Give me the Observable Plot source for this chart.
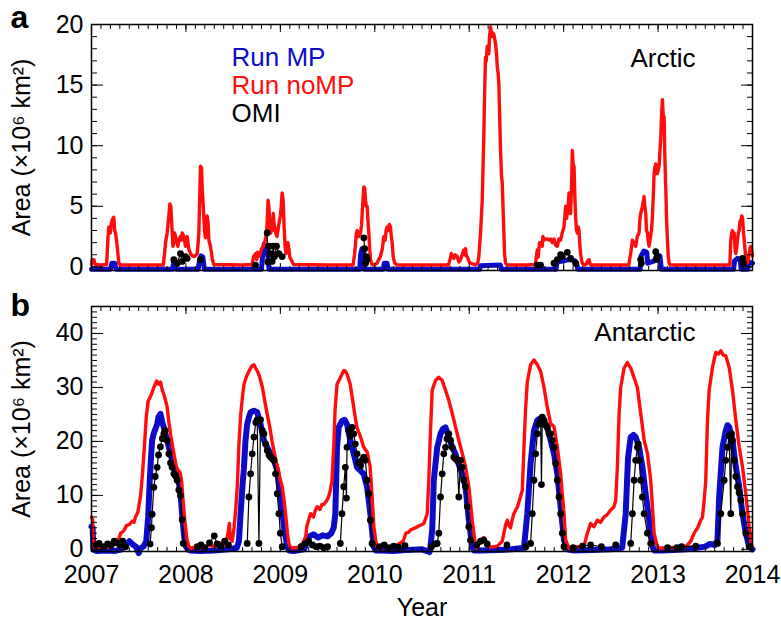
<!DOCTYPE html>
<html><head><meta charset="utf-8">
<script src="https://cdn.jsdelivr.net/npm/d3@7"></script>
<script src="https://cdn.jsdelivr.net/npm/@observablehq/plot@0.6"></script>
<style>
body{margin:0;background:#fff;font-family:"Liberation Sans",Arial,Helvetica,sans-serif;}
#wrap{position:relative;width:781px;height:619px;overflow:hidden;background:#fff;}
#pa{position:absolute;left:0;top:0;}
#pb{position:absolute;left:0;top:280px;}
</style></head><body><div id="wrap"><div id="pa"></div><div id="pb"></div></div>
<script>
// ---------- tick labels / categories ----------
const years = [2007, 2008, 2009, 2010, 2011, 2012, 2013, 2014];
const arcTicks = [0, 5, 10, 15, 20];
const antTicks = [0, 10, 20, 30, 40];
const seriesNames = ["Run MP", "Run noMP", "OMI"];
const seriesColors = ["#0c0cc8", "#ff0d0d", "#000000"];
const regionNames = ["Arctic", "Antarctic"];
const panelLetters = ["a", "b"];
const yTitle = "Area (×10⁶ km²)";
const xTitle = "Year";

// ---------- Arctic (panel a) ----------
const arcMP = [[2007.0,-0.2],[2007.20,-0.2],[2007.215,0.3],[2007.245,0.3],[2007.26,-0.2],[2007.86,-0.2],[2007.87,0.4],[2007.89,0.3],[2007.90,-0.2],[2008.13,-0.2],[2008.145,0.6],[2008.16,0.9],[2008.18,0.8],[2008.195,-0.2],[2008.80,-0.2],[2008.815,1.2],[2008.83,1.9],[2008.85,1.6],[2008.87,0.8],[2008.88,-0.2],[2009.84,-0.2],[2009.85,1.0],[2009.865,1.5],[2009.88,1.2],[2009.89,-0.2],[2010.09,-0.2],[2010.10,0.3],[2010.13,0.3],[2010.14,-0.2],[2011.11,-0.2],[2011.12,0.1],[2011.33,0.15],[2011.34,-0.2],[2011.92,-0.2],[2011.93,0.4],[2012.0,0.5],[2012.06,0.6],[2012.12,0.5],[2012.14,0.2],[2012.15,-0.2],[2012.81,-0.2],[2012.82,0.9],[2012.85,1.3],[2012.88,1.2],[2012.89,0.3],[2012.96,0.5],[2012.99,1.0],[2013.02,0.9],[2013.035,-0.2],[2013.80,-0.2],[2013.81,0.5],[2013.84,0.7],[2013.87,0.6],[2013.88,-0.2],[2013.95,-0.2],[2013.96,0.4],[2014.0,0.3]];

const arcNoMP = [[2007.0,0.2],[2007.008,0.6],[2007.025,0.6],[2007.04,0.2],[2007.10,0.15],[2007.16,0.2],[2007.175,2.5],[2007.184,3.3],[2007.20,2.8],[2007.21,3.6],[2007.22,3.9],[2007.236,4.1],[2007.245,3.0],[2007.254,2.8],[2007.265,2.2],[2007.272,1.7],[2007.289,0.3],[2007.307,0.15],
[2007.50,0.15],[2007.76,0.15],[2007.775,1.2],[2007.784,2.0],[2007.801,2.8],[2007.81,3.5],[2007.819,4.2],[2007.83,5.2],[2007.84,5.0],[2007.854,3.0],[2007.862,1.7],[2007.872,2.0],[2007.88,2.8],[2007.89,2.5],[2007.90,2.2],[2007.915,1.7],[2007.925,2.2],[2007.942,2.5],[2007.95,2.2],[2007.96,2.8],[2007.978,2.5],[2007.995,1.7],[2008.005,2.2],[2008.013,2.5],[2008.03,1.5],[2008.048,1.1],[2008.07,0.9],[2008.084,0.85],[2008.10,0.9],[2008.119,1.1],[2008.13,2.0],[2008.137,2.8],[2008.145,5.5],[2008.154,8.3],[2008.165,8.2],[2008.172,6.5],[2008.18,5.5],[2008.19,4.0],[2008.2,2.8],[2008.207,2.4],[2008.215,4.0],[2008.225,4.2],[2008.235,3.6],[2008.243,2.2],[2008.26,1.7],[2008.28,0.6],[2008.295,0.2],
[2008.60,0.15],[2008.70,0.2],[2008.719,0.9],[2008.74,1.1],[2008.75,0.6],[2008.76,1.2],[2008.78,0.9],[2008.80,1.5],[2008.82,1.7],[2008.84,2.2],[2008.855,2.8],[2008.862,4.0],[2008.87,5.5],[2008.878,5.0],[2008.89,3.5],[2008.898,2.8],[2008.91,3.3],[2008.915,3.0],[2008.925,4.4],[2008.935,3.5],[2008.95,2.8],[2008.965,2.5],[2008.98,3.3],[2008.99,3.8],[2009.0,4.2],[2009.01,5.0],[2009.019,6.1],[2009.03,5.5],[2009.04,3.3],[2009.05,1.7],[2009.06,1.1],[2009.08,2.0],[2009.09,1.5],[2009.10,0.8],[2009.12,0.5],[2009.14,0.2],
[2009.50,0.15],[2009.77,0.15],[2009.785,1.0],[2009.796,1.9],[2009.805,2.8],[2009.813,3.0],[2009.83,2.5],[2009.849,2.8],[2009.86,3.5],[2009.875,5.5],[2009.884,6.6],[2009.893,6.5],[2009.902,5.5],[2009.91,5.0],[2009.919,5.0],[2009.93,3.5],[2009.937,2.8],[2009.946,1.5],[2009.954,0.6],[2009.97,0.2],[2009.99,0.15],[2010.025,0.3],[2010.04,0.6],[2010.06,0.85],[2010.08,1.5],[2010.096,2.5],[2010.11,2.2],[2010.12,3.0],[2010.131,3.3],[2010.145,3.0],[2010.155,3.5],[2010.166,3.3],[2010.175,2.5],[2010.184,2.0],[2010.195,0.85],[2010.21,0.3],[2010.237,0.15],
[2010.50,0.15],[2010.78,0.15],[2010.80,0.7],[2010.81,1.1],[2010.82,0.8],[2010.837,0.7],[2010.85,1.0],[2010.873,0.85],[2010.89,0.4],[2010.908,0.6],[2010.925,1.0],[2010.943,1.4],[2010.952,1.0],[2010.961,1.5],[2010.97,0.9],[2010.979,0.85],[2011.0,0.4],[2011.014,0.3],[2011.067,0.16],[2011.09,0.3],[2011.102,0.85],[2011.12,2.8],[2011.138,5.5],[2011.155,11.0],[2011.165,15.0],[2011.173,17.3],[2011.18,17.0],[2011.191,18.2],[2011.20,17.6],[2011.208,17.6],[2011.215,19.0],[2011.226,19.8],[2011.235,19.3],[2011.244,19.0],[2011.252,19.3],[2011.261,19.2],[2011.27,18.8],[2011.279,18.4],[2011.29,17.5],[2011.297,16.5],[2011.306,16.0],[2011.314,15.1],[2011.322,12.5],[2011.332,9.6],[2011.342,7.5],[2011.35,6.9],[2011.36,4.5],[2011.367,2.8],[2011.375,1.0],[2011.385,0.3],[2011.40,0.15],
[2011.60,0.15],[2011.70,0.2],[2011.721,1.4],[2011.73,0.8],[2011.745,2.0],[2011.756,2.0],[2011.774,1.7],[2011.78,2.5],[2011.792,2.2],[2011.81,2.3],[2011.827,2.3],[2011.845,2.2],[2011.862,2.3],[2011.88,2.0],[2011.898,2.3],[2011.915,1.8],[2011.933,1.7],[2011.95,2.3],[2011.968,2.2],[2011.985,2.8],[2012.004,3.3],[2012.021,5.0],[2012.03,4.0],[2012.039,4.4],[2012.048,5.0],[2012.057,6.1],[2012.065,5.0],[2012.074,4.4],[2012.083,6.5],[2012.092,9.6],[2012.10,8.5],[2012.11,8.3],[2012.118,6.0],[2012.127,4.1],[2012.136,3.0],[2012.145,2.8],[2012.154,3.3],[2012.163,3.0],[2012.172,1.7],[2012.18,1.1],[2012.19,0.5],[2012.198,0.3],[2012.216,0.15],[2012.24,0.2],[2012.255,0.5],[2012.269,0.6],[2012.278,0.3],[2012.286,0.15],
[2012.50,0.15],[2012.69,0.15],[2012.70,0.7],[2012.71,1.1],[2012.728,2.2],[2012.745,2.0],[2012.763,1.7],[2012.78,2.5],[2012.799,2.8],[2012.808,4.0],[2012.816,4.4],[2012.834,5.0],[2012.852,5.8],[2012.86,5.0],[2012.869,4.4],[2012.878,3.0],[2012.887,2.8],[2012.895,2.2],[2012.905,1.7],[2012.92,2.5],[2012.93,3.0],[2012.94,4.1],[2012.95,6.0],[2012.958,7.7],[2012.966,8.2],[2012.975,8.5],[2012.984,7.7],[2012.993,7.7],[2013.002,8.0],[2013.011,8.3],[2013.02,9.6],[2013.028,10.5],[2013.037,12.5],[2013.046,13.8],[2013.055,12.5],[2013.064,12.4],[2013.072,9.0],[2013.081,6.6],[2013.09,4.0],[2013.099,2.2],[2013.108,0.9],[2013.117,0.3],[2013.13,0.15],
[2013.50,0.15],[2013.76,0.15],[2013.77,2.2],[2013.78,2.8],[2013.788,3.0],[2013.797,2.8],[2013.806,2.8],[2013.815,1.5],[2013.823,1.1],[2013.832,1.5],[2013.841,2.2],[2013.85,2.8],[2013.859,3.0],[2013.868,3.8],[2013.876,3.6],[2013.885,4.2],[2013.894,4.1],[2013.903,3.0],[2013.912,2.2],[2013.92,1.5],[2013.929,0.6],[2013.94,0.3],[2013.955,0.5],[2013.965,1.1],[2013.973,1.5],[2013.982,1.7],[2013.99,1.5],[2014.0,0.9]];

const arcOMI = [
 [[2007.872,0.6],[2007.907,0.3],[2007.942,1.1],[2007.96,0.45],[2007.995,0.85],[2008.013,0.7]],
 [[2008.154,0.6]],
 [[2008.737,0.15]],
 [[2008.86,2.8],[2008.868,0.4],[2008.878,1.7],[2008.896,1.1],[2008.913,0.45],[2008.924,1.7],[2008.938,0.85],[2008.959,1.7],[2008.984,1.1],[2009.019,0.85]],
 [[2009.884,2.4],[2009.893,1.5],[2009.902,0.3],[2009.91,0.85],[2009.919,0.6]],
 [[2011.721,0.15],[2011.756,0.15]],
 [[2011.898,0.3],[2011.933,0.6],[2011.968,1.0],[2011.986,0.85],[2012.039,1.2],[2012.074,0.7],[2012.127,0.3]],
 [[2012.816,0.6],[2012.823,0.3]],
 [[2012.975,1.25],[2012.984,0.6],[2012.993,0.85]],
 [[2013.894,0.7],[2013.905,0.3]]
];

// ---------- Antarctic (panel b) ----------
const antMP = [[2007.0,4.2],[2007.012,4.0],[2007.02,0.0],[2007.05,-0.3],[2007.15,-0.2],[2007.25,-0.3],[2007.32,0.0],[2007.36,0.8],[2007.40,1.5],[2007.43,1.0],[2007.47,0.5],[2007.50,-0.7],[2007.52,0.2],[2007.55,0.5],[2007.58,1.5],[2007.60,6],[2007.615,12],[2007.63,17],[2007.642,20.2],[2007.66,21.5],[2007.695,23.2],[2007.71,24.5],[2007.73,25.1],[2007.75,23.5],[2007.766,22.6],[2007.80,20.2],[2007.837,17.7],[2007.87,15.5],[2007.907,14.0],[2007.925,12.5],[2007.942,10.3],[2007.96,6.5],[2007.98,2.5],[2008.0,0.5],[2008.02,0.0],
[2008.05,-0.2],[2008.15,-0.3],[2008.30,-0.2],[2008.45,0.0],[2008.54,0.3],[2008.561,1.5],[2008.579,6.6],[2008.60,12],[2008.614,15.0],[2008.63,20],[2008.649,23.2],[2008.667,24.5],[2008.685,25.4],[2008.72,25.7],[2008.755,25.4],[2008.79,23.2],[2008.826,20.2],[2008.861,18.9],[2008.896,17.7],[2008.932,16.5],[2008.967,14.6],[2009.0,10.3],[2009.038,4.2],[2009.073,0.5],[2009.09,-0.2],
[2009.14,-0.3],[2009.25,0.0],[2009.28,1.2],[2009.30,2.3],[2009.35,2.8],[2009.40,2.2],[2009.45,2.6],[2009.50,2.4],[2009.54,3.0],[2009.565,4],[2009.582,6.6],[2009.60,18.9],[2009.618,22.6],[2009.653,23.8],[2009.68,24.0],[2009.706,23.2],[2009.741,20.2],[2009.777,17.7],[2009.812,15.2],[2009.847,14.6],[2009.882,14.0],[2009.918,11.6],[2009.953,6.6],[2009.988,0.5],[2010.01,-0.2],
[2010.05,-0.2],[2010.20,-0.3],[2010.35,-0.1],[2010.50,0.0],[2010.58,-0.5],[2010.59,0.5],[2010.608,3.6],[2010.625,12.8],[2010.661,18.9],[2010.696,21.4],[2010.72,22.3],[2010.749,22.6],[2010.784,20.8],[2010.82,18.9],[2010.855,17.7],[2010.873,16.5],[2010.926,14.0],[2010.961,11.6],[2010.996,5.4],[2011.032,0.5],[2011.05,-0.2],
[2011.10,-0.2],[2011.30,-0.1],[2011.45,0.0],[2011.58,0.3],[2011.615,6.6],[2011.65,15.9],[2011.686,22.0],[2011.721,23.9],[2011.774,24.5],[2011.80,23.5],[2011.827,22.6],[2011.862,20.2],[2011.898,17.7],[2011.933,14.0],[2011.968,7.9],[2012.004,1.7],[2012.039,0.0],
[2012.10,-0.2],[2012.30,-0.1],[2012.50,0.0],[2012.62,0.3],[2012.657,6.6],[2012.682,17.0],[2012.71,20.8],[2012.74,21.2],[2012.763,20.8],[2012.799,18.9],[2012.834,15.3],[2012.869,10.3],[2012.905,5.4],[2012.94,0.5],[2012.96,-0.2],
[2013.05,-0.2],[2013.30,0.0],[2013.50,0.5],[2013.55,1.0],[2013.60,0.8],[2013.629,1.7],[2013.647,9.7],[2013.682,18.9],[2013.717,22.0],[2013.735,23.0],[2013.753,22.7],[2013.788,20.2],[2013.823,15.3],[2013.859,11.6],[2013.894,6.6],[2013.929,3.0],[2013.965,0.5],[2014.0,0.0]];

const antNoMP = [[2007.000,6.0],[2007.012,5.5],[2007.020,1.0],[2007.035,0.3],[2007.10,0.3],[2007.16,0.4],[2007.22,0.6],[2007.25,1.2],[2007.29,2.0],[2007.31,3.0],[2007.34,3.4],[2007.37,4.4],[2007.40,4.6],[2007.43,5.2],[2007.45,5.0],[2007.47,6.2],[2007.49,6.8],[2007.50,7.8],[2007.52,10.0],[2007.54,14],[2007.56,19],[2007.58,24.5],[2007.60,27.5],[2007.63,28.5],[2007.66,30.0],[2007.69,31.2],[2007.71,30.6],[2007.73,31.0],[2007.75,29.5],[2007.77,28.5],[2007.80,26.5],[2007.82,23.5],[2007.84,21],[2007.86,19],[2007.88,17],[2007.90,15.2],[2007.92,14.6],[2007.94,14.2],[2007.955,12.5],[2007.97,9],[2007.99,5],[2008.01,2],[2008.03,0.6],[2008.05,0.2],
[2008.07,0.3],[2008.12,0.5],[2008.18,0.3],[2008.25,0.8],[2008.30,0.5],[2008.36,1.2],[2008.40,0.8],[2008.43,1.5],[2008.45,3.5],[2008.46,4.8],[2008.47,2.0],[2008.49,1.5],[2008.51,4],[2008.53,8],[2008.545,12],[2008.56,19],[2008.58,25],[2008.60,28.5],[2008.615,30.6],[2008.64,32],[2008.67,33.1],[2008.70,34.0],[2008.72,34.2],[2008.74,33.5],[2008.755,33.1],[2008.78,32.0],[2008.81,30.0],[2008.84,27],[2008.86,25.1],[2008.89,22.5],[2008.91,20.2],[2008.94,17.5],[2008.97,15.2],[2008.99,13.5],[2009.02,11.6],[2009.04,9],[2009.055,6.6],[2009.075,3],[2009.09,1.1],[2009.11,0.2],
[2009.14,0.3],[2009.20,0.4],[2009.24,1.2],[2009.27,2.5],[2009.28,4.2],[2009.30,5.5],[2009.32,6.6],[2009.35,6.0],[2009.37,7.2],[2009.39,7.9],[2009.42,7.4],[2009.44,8.3],[2009.46,8.3],[2009.49,9.0],[2009.51,9.7],[2009.53,11],[2009.547,12.8],[2009.565,18.9],[2009.58,26],[2009.60,30.6],[2009.635,31.8],[2009.67,33.1],[2009.69,33.0],[2009.706,32.5],[2009.74,30.6],[2009.777,26.3],[2009.81,22.6],[2009.85,20.8],[2009.88,19.0],[2009.92,18.0],[2009.95,15.4],[2009.97,10.3],[2009.99,4.2],[2010.02,0.5],[2010.04,0.3],
[2010.07,0.3],[2010.17,0.5],[2010.24,0.8],[2010.30,1.5],[2010.33,3.0],[2010.36,3.2],[2010.38,3.6],[2010.42,3.9],[2010.45,4.2],[2010.49,4.5],[2010.52,4.8],[2010.555,6.6],[2010.572,12.8],[2010.59,22],[2010.608,29.5],[2010.643,31.3],[2010.678,31.9],[2010.714,31.3],[2010.749,29.5],[2010.784,27.6],[2010.82,25.2],[2010.855,22.7],[2010.89,20.2],[2010.926,17.8],[2010.961,15.3],[2010.996,11.6],[2011.032,5.4],[2011.067,0.5],[2011.08,0.2],
[2011.085,0.5],[2011.12,1.5],[2011.155,2.2],[2011.19,0.8],[2011.23,0.4],[2011.30,0.6],[2011.35,1.5],[2011.367,3.0],[2011.385,4.5],[2011.403,5.4],[2011.42,4.5],[2011.438,4.0],[2011.455,5.5],[2011.473,6.6],[2011.49,7.2],[2011.509,7.8],[2011.53,9],[2011.562,10.9],[2011.58,19],[2011.597,26],[2011.615,31],[2011.65,34.2],[2011.686,35.1],[2011.721,34.2],[2011.756,33],[2011.792,30],[2011.827,26.3],[2011.862,23.3],[2011.898,22.7],[2011.933,19],[2011.968,14],[2012.004,6.6],[2012.021,1.7],[2012.057,0.2],
[2012.074,0.3],[2012.15,0.5],[2012.216,0.6],[2012.251,3.0],[2012.286,4.8],[2012.32,4.2],[2012.357,5.4],[2012.39,5.0],[2012.428,6.0],[2012.46,6.4],[2012.498,7.3],[2012.53,7.8],[2012.551,9.0],[2012.569,15.3],[2012.587,25],[2012.604,30],[2012.64,33.6],[2012.675,34.6],[2012.71,33.6],[2012.746,31.8],[2012.781,30],[2012.816,25.2],[2012.852,20.3],[2012.887,17.8],[2012.922,12.8],[2012.958,3.0],[2012.993,0.4],
[2013.03,0.2],[2013.10,0.4],[2013.20,0.3],[2013.30,0.6],[2013.346,1.5],[2013.382,3.0],[2013.42,4.0],[2013.452,5.4],[2013.47,6.0],[2013.488,9.0],[2013.505,12.8],[2013.523,23.9],[2013.541,29.5],[2013.576,33.7],[2013.611,36.5],[2013.64,36.2],[2013.664,36.8],[2013.69,36.0],[2013.717,35.9],[2013.753,33.7],[2013.788,29.5],[2013.823,24],[2013.859,19],[2013.894,15.3],[2013.929,10.3],[2013.965,4.2],[2013.995,0.3]];

const antOMI = [
 [[2007.05,0.8],[2007.08,1.1],[2007.13,0.5],[2007.17,1.0],[2007.21,0.8],[2007.24,1.5],[2007.27,1.2],[2007.30,0.8],[2007.33,1.5],[2007.36,0.5]],
 [[2007.62,1.0],[2007.635,4],[2007.642,6.5],[2007.66,11.5],[2007.675,13.5],[2007.695,15.2],[2007.71,17.5],[2007.73,19.0],[2007.75,20.5],[2007.766,21.4],[2007.78,22.0],[2007.801,20.2],[2007.819,17.7],[2007.837,16.0],[2007.854,15.2],[2007.872,14.0],[2007.89,13.6],[2007.907,12.8],[2007.925,11.0],[2007.942,10.0],[2007.96,5.5],[2007.971,1.1]],
 [[2008.12,0.5],[2008.16,0.8],[2008.20,0.3],[2008.25,1.2],[2008.30,2.5],[2008.33,1.0],[2008.37,0.6],[2008.41,1.5],[2008.45,0.8]],
 [[2008.649,1.1],[2008.667,9.7],[2008.685,14.0],[2008.702,17.7],[2008.72,20.8],[2008.74,23.5],[2008.755,24.0],[2008.773,1.1],[2008.79,24.0],[2008.81,22.0],[2008.826,21.4],[2008.845,19.5],[2008.861,18.3],[2008.88,17.5],[2008.896,17.1],[2008.915,16.8],[2008.932,16.5],[2008.949,14.0],[2008.967,10.3],[2008.985,6.6],[2009.0,3.0],[2009.02,0.5]],
 [[2009.22,0.5],[2009.26,1.0],[2009.30,1.5],[2009.34,0.8],[2009.38,0.5],[2009.42,0.6],[2009.46,0.3],[2009.50,0.5]],
 [[2009.635,1.1],[2009.653,6.6],[2009.671,11.6],[2009.688,15.2],[2009.70,9.5],[2009.706,18.9],[2009.724,22.0],[2009.74,21.0],[2009.759,22.6],[2009.777,21.4],[2009.794,19.5],[2009.812,17.7],[2009.83,16.0],[2009.85,15.5],[2009.865,16.5],[2009.882,17.1],[2009.90,16.5],[2009.918,12.8],[2009.935,10.3],[2009.953,5.4],[2009.971,1.1]],
 [[2010.05,0.5],[2010.10,0.8],[2010.15,0.3],[2010.20,0.6],[2010.25,0.4],[2010.32,0.7]],
 [[2010.60,0.5],[2010.64,1.0],[2010.661,1.1],[2010.678,3.0],[2010.696,9.7],[2010.714,14.0],[2010.731,17.7],[2010.749,18.9],[2010.765,20.5],[2010.784,21.4],[2010.802,20.2],[2010.82,18.9],[2010.837,17.1],[2010.855,16.8],[2010.873,16.5],[2010.89,9.7],[2010.908,16.5],[2010.926,15.2],[2010.943,12.8],[2010.961,11.6],[2010.979,7.9],[2010.996,4.2],[2011.014,1.7]],
 [[2011.08,0.8],[2011.12,1.5],[2011.155,1.7],[2011.19,1.0]],
 [[2011.40,0.8]],
 [[2011.60,0.5],[2011.65,1.1],[2011.668,6.6],[2011.686,12.8],[2011.703,17.7],[2011.721,21.4],[2011.739,23.2],[2011.756,23.9],[2011.765,12.0],[2011.774,24.5],[2011.792,23.9],[2011.81,23.0],[2011.827,22.6],[2011.845,21.5],[2011.862,21.4],[2011.88,20.2],[2011.898,18.9],[2011.915,15.9],[2011.933,12.8],[2011.951,9.7],[2011.968,6.6],[2011.986,3.0],[2012.004,0.5]],
 [[2012.10,0.3],[2012.20,0.6],[2012.286,0.8],[2012.40,0.5]],
 [[2012.551,0.8]],
 [[2012.71,1.1],[2012.728,6.6],[2012.746,12.8],[2012.763,16.5],[2012.781,18.9],[2012.79,19.5],[2012.799,16.5],[2012.816,12.8],[2012.834,9.7],[2012.852,6.6],[2012.887,3.0],[2012.922,1.1]],
 [[2013.10,0.3],[2013.20,0.3],[2013.25,0.5],[2013.40,0.6]],
 [[2013.629,1.1],[2013.664,6.6],[2013.70,12.8],[2013.717,16.5],[2013.735,18.9],[2013.753,21.0],[2013.77,6.6],[2013.778,21.4],[2013.788,20.2],[2013.806,16.5],[2013.823,13.5],[2013.841,11.6],[2013.858,10.5],[2013.876,9.1],[2013.894,6.6],[2013.929,3.0],[2013.965,0.5]]
];

// ---------- helpers ----------
const FONT = '"Liberation Sans", Arial, Helvetica, sans-serif';
const rows = pairs => pairs.map(([x, y]) => ({x, y}));
const clusterRows = cl => cl.flatMap((c, g) => c.map(([x, y]) => ({x, y, g})));
const xMinor = d3.range(0, 71).map(i => 2007 + i / 10);

function tickMarks(yMajor, yMinor) {
  return [
    Plot.axisX(years, {anchor: "bottom", tickSize: -7, tickFormat: () => "", label: null}),
    Plot.axisX(xMinor, {anchor: "bottom", tickSize: -4, tickFormat: () => "", label: null}),
    Plot.axisX(years, {anchor: "top", tickSize: -7, tickFormat: () => "", label: null}),
    Plot.axisX(xMinor, {anchor: "top", tickSize: -4, tickFormat: () => "", label: null}),
    Plot.axisY(yMajor, {anchor: "left", tickSize: -12, tickFormat: () => "", label: null}),
    Plot.axisY(yMinor, {anchor: "left", tickSize: -6, tickFormat: () => "", label: null}),
    Plot.axisY(yMajor, {anchor: "right", tickSize: -12, tickFormat: () => "", label: null}),
    Plot.axisY(yMinor, {anchor: "right", tickSize: -6, tickFormat: () => "", label: null})
  ];
}

function dataMarks(mp, nomp, omi, mpWidth) {
  return [
    Plot.line(rows(mp), {x: "x", y: "y", stroke: seriesColors[0], strokeWidth: mpWidth, strokeLinejoin: "round"}),
    Plot.line(rows(nomp), {x: "x", y: "y", stroke: seriesColors[1], strokeWidth: 3.4, strokeLinejoin: "round"}),
    Plot.line(clusterRows(omi), {x: "x", y: "y", z: "g", stroke: seriesColors[2], strokeWidth: 1.2}),
    Plot.dot(clusterRows(omi), {x: "x", y: "y", r: 3.4, fill: seriesColors[2], stroke: null})
  ];
}

function legendEntry(i) {
  return Plot.text([seriesNames[i]], {frameAnchor: "top-left", dx: 140, dy: 33 + 28 * i,
    fill: seriesColors[i], fontSize: 26, textAnchor: "start", lineAnchor: "middle"});
}

// ---------- panel a ----------
const pa = Plot.plot({
  width: 781, height: 290,
  marginLeft: 91, marginRight: 29, marginTop: 24, marginBottom: 20,
  style: {fontFamily: FONT, background: "white", color: "black", overflow: "visible"},
  x: {domain: [2007, 2014], label: null},
  y: {domain: [-0.3, 20], label: null},
  marks: [
    ...dataMarks(arcMP, arcNoMP, arcOMI, 5),
    Plot.frame({stroke: "black", strokeWidth: 1.5}),
    ...tickMarks(arcTicks, d3.range(0, 21)),
    Plot.axisY(arcTicks, {anchor: "left", tickSize: 0, tickPadding: 8, fontSize: 25,
      label: yTitle, labelAnchor: "center", labelOffset: 79, labelArrow: "none"}),
    legendEntry(0), legendEntry(1), legendEntry(2),
    Plot.text([regionNames[0]], {frameAnchor: "top-right", dx: -57, dy: 34, fontSize: 26, textAnchor: "end", lineAnchor: "middle"}),
    Plot.text([panelLetters[0]], {frameAnchor: "top-left", dx: -81, dy: -19, fontSize: 32, fontWeight: "bold", textAnchor: "start", lineAnchor: "top"})
  ]
});
document.getElementById("pa").appendChild(pa);

// ---------- panel b ----------
const pb = Plot.plot({
  width: 781, height: 339,
  marginLeft: 91, marginRight: 29, marginTop: 26, marginBottom: 68,
  style: {fontFamily: FONT, background: "white", color: "black", overflow: "visible"},
  x: {domain: [2007, 2014], label: null},
  y: {domain: [-0.4, 45], label: null},
  marks: [
    ...dataMarks(antMP, antNoMP, antOMI, 6),
    Plot.frame({stroke: "black", strokeWidth: 1.5}),
    ...tickMarks(antTicks, d3.range(0, 46)),
    Plot.axisY(antTicks, {anchor: "left", tickSize: 0, tickPadding: 8, fontSize: 25,
      label: yTitle, labelAnchor: "center", labelOffset: 79, labelArrow: "none"}),
    Plot.axisX(years, {anchor: "bottom", tickSize: 0, tickPadding: 14, fontSize: 25, tickFormat: d => String(d),
      label: xTitle, labelAnchor: "center", labelOffset: 64, labelArrow: "none"}),
    Plot.text([regionNames[1]], {frameAnchor: "top-right", dx: -57, dy: 26, fontSize: 26, textAnchor: "end", lineAnchor: "middle"}),
    Plot.text([panelLetters[1]], {frameAnchor: "top-left", dx: -81, dy: -13, fontSize: 32, fontWeight: "bold", textAnchor: "start", lineAnchor: "top"})
  ]
});
document.getElementById("pb").appendChild(pb);
</script></body></html>
